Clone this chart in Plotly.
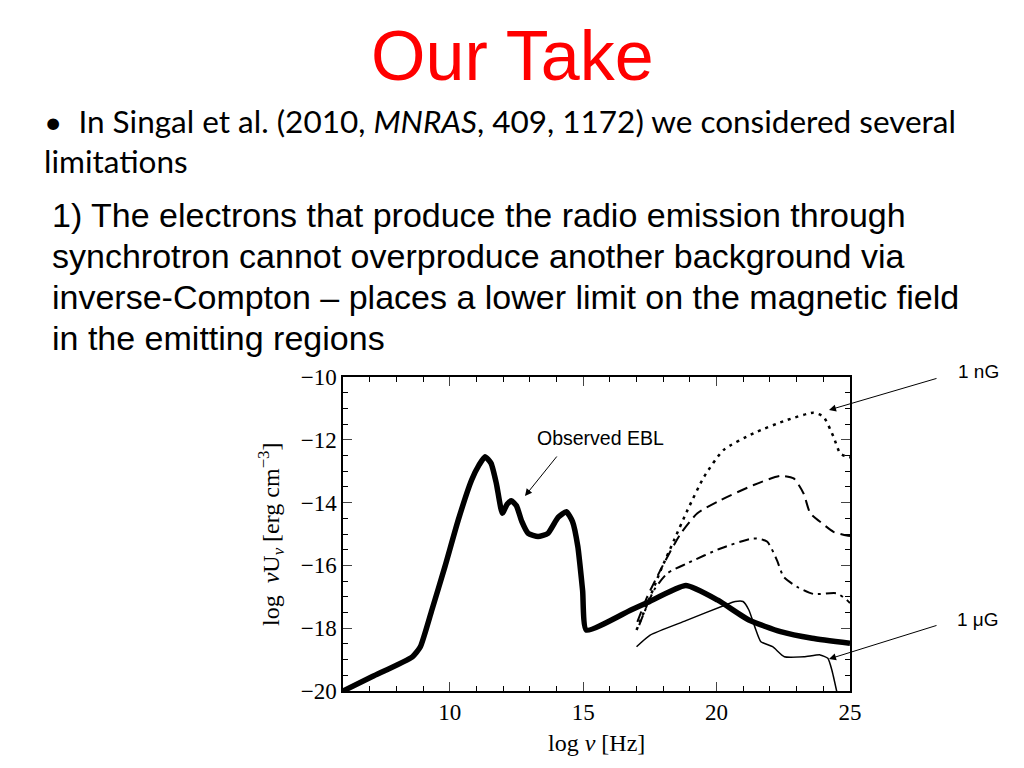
import plotly.graph_objects as go

# ---- data ----
ebl_x = [6.0, 7.1, 8.6, 8.9, 9.33, 9.82, 10.32, 10.82, 11.1, 11.32, 11.55, 11.75, 11.97,
         12.15, 12.31, 12.5, 12.7, 12.94, 13.31, 13.68, 14.06, 14.37, 14.6, 14.8, 14.98, 15.12,
         16.79, 17.37, 18.85, 20.03, 21.21, 22.4, 23.58, 25.0]
ebl_y = [-20.0, -19.54, -18.91, -18.59, -17.42, -16.04, -14.55, -13.28, -12.8, -12.54, -12.75, -13.4, -14.34,
         -14.05, -13.94, -14.1, -14.6, -14.98, -15.08, -14.98, -14.47, -14.29, -14.6, -15.4, -16.8, -18.06,
         -17.42, -17.2, -16.64, -17.1, -17.74, -18.11, -18.32, -18.48]

mug_x = [17.0, 17.51, 18.85, 20.33, 20.7, 20.99, 21.21, 21.43, 21.66, 22.1, 22.54, 23.28, 23.88, 24.17, 24.32, 24.5, 24.6]
mug_y = [-18.59, -18.22, -17.76, -17.26, -17.15, -17.15, -17.42, -17.95, -18.43, -18.59, -18.91, -18.91, -18.85, -18.96, -19.33, -20.0, -20.4]

ng_x = [17.0, 17.41, 17.91, 18.41, 18.91, 19.53, 20.27, 21.39, 22.64, 23.63, 24.0, 24.38, 24.63, 24.88, 25.0]
ng_y = [-18.06, -17.21, -16.15, -15.19, -14.24, -13.18, -12.32, -11.79, -11.37, -11.14, -11.26, -11.9, -12.43, -12.54, -12.56]

dash_x = [17.03, 17.4, 18.03, 18.66, 19.28, 20.15, 21.39, 22.39, 22.89, 23.26, 23.51, 23.88, 24.38, 24.88, 25.0]
dash_y = [-17.8, -17.0, -15.93, -14.98, -14.34, -13.92, -13.44, -13.15, -13.23, -13.71, -14.34, -14.61, -14.93, -15.05, -15.06]

dd_x = [17.1, 17.66, 18.16, 18.91, 20.15, 21.39, 21.89, 22.26, 22.51, 23.01, 23.63, 24.5, 24.88, 25.0]
dd_y = [-17.9, -16.78, -16.25, -15.93, -15.46, -15.14, -15.24, -15.83, -16.36, -16.68, -16.91, -16.89, -17.1, -17.2]

x_ticks = [10, 15, 20, 25]
y_ticks = [-10, -12, -14, -16, -18, -20]

title_text = "Our Take"
bullet_lines = ["\u2022  In Singal et al. (2010, <i>MNRAS</i>, 409, 1172) we considered several",
                "limitations"]
para_lines = ["1) The electrons that produce the radio emission through",
              "synchrotron cannot overproduce another background via",
              "inverse-Compton \u2013 places a lower limit on the magnetic field",
              "in the emitting regions"]

# page body has an 8px margin: draw a 1008x752 figure offset by 8px
OFF = 8
W, H = 1024 - 2 * OFF, 768 - 2 * OFF
L, R, T, B = 343, 850, 377, 691   # plot frame in screen pixels

fig = go.Figure()
fig.add_trace(go.Scatter(x=ng_x, y=ng_y, mode="lines", line=dict(color="black", width=2.5, dash="3px,5px", shape="spline", smoothing=0.6), showlegend=False))
fig.add_trace(go.Scatter(x=dash_x, y=dash_y, mode="lines", line=dict(color="black", width=2, dash="11px,6px", shape="spline", smoothing=0.6), showlegend=False))
fig.add_trace(go.Scatter(x=dd_x, y=dd_y, mode="lines", line=dict(color="black", width=2, dash="10px,5px,3px,5px", shape="spline", smoothing=0.6), showlegend=False))
fig.add_trace(go.Scatter(x=mug_x, y=mug_y, mode="lines", line=dict(color="black", width=1.5, shape="spline", smoothing=0.5), showlegend=False))
fig.add_trace(go.Scatter(x=ebl_x, y=ebl_y, mode="lines", line=dict(color="black", width=5.5, shape="spline", smoothing=0.5), showlegend=False))

tickfont = dict(family="Liberation Serif", size=23, color="black")
fig.update_xaxes(range=[6, 25], tickvals=x_ticks, ticks="inside", ticklen=9, tickwidth=1.2, mirror="allticks",
                 showline=True, linecolor="black", linewidth=1.5, showgrid=False, zeroline=False,
                 tickfont=tickfont, minor=dict(dtick=1, tick0=0, ticks="inside", ticklen=5, tickcolor="black", tickwidth=1))
fig.update_yaxes(range=[-20, -10], tickvals=y_ticks, ticks="inside", ticklen=9, tickwidth=1.2, mirror="allticks",
                 showline=True, linecolor="black", linewidth=1.5, showgrid=False, zeroline=False,
                 tickfont=tickfont, minor=dict(dtick=0.5, tick0=0, ticks="inside", ticklen=5, tickcolor="black", tickwidth=1))


def px(xp):
    return (xp - L) / (R - L)


def py(yp):
    return (B - yp) / (B - T)


def dx(xp):
    return 6 + (xp - L) / (R - L) * 19


def dy(yp):
    return -10 - (yp - T) / (B - T) * 10


ann = []
# axis titles
ann.append(dict(text="log <i>\u03bd</i> [Hz]", xref="paper", yref="paper", x=px(596), y=py(743),
                showarrow=False, font=dict(family="Liberation Serif", size=24, color="black"), xanchor="center", yanchor="middle"))
ann.append(dict(text="log  <i>\u03bd</i>U<sub><i>\u03bd</i></sub> [erg cm<sup>\u22123</sup>]", xref="paper", yref="paper",
                x=px(271), y=py(534), textangle=-90,
                showarrow=False, font=dict(family="Liberation Serif", size=24, color="black"), xanchor="center", yanchor="middle"))

# chart labels
lab_font = dict(family="Liberation Sans", size=19, color="black")
ann.append(dict(text="Observed EBL", xref="paper", yref="paper", x=px(600), y=py(438), showarrow=False,
                font=dict(family="Liberation Sans", size=19.5, color="black"), xanchor="center", yanchor="middle"))
ann.append(dict(text="1 nG", xref="paper", yref="paper", x=px(978), y=py(372), showarrow=False,
                font=lab_font, xanchor="center", yanchor="middle"))
ann.append(dict(text="1 \u03bcG", xref="paper", yref="paper", x=px(978), y=py(619), showarrow=False,
                font=lab_font, xanchor="center", yanchor="middle"))
# arrows (head in data coordinates, tail as pixel offset)
arrows = [((525, 496), (558, 455)), ((829, 410), (938, 378)), ((829, 659), (938, 625))]
for (hx, hy), (tx, ty) in arrows:
    ann.append(dict(text="", x=dx(hx), y=dy(hy), xref="x", yref="y", ax=tx - hx, ay=ty - hy,
                    showarrow=True, arrowhead=2, arrowsize=1.4, arrowwidth=1, arrowcolor="black", standoff=0))

# slide title
ann.append(dict(text=title_text, xref="paper", yref="paper", x=px(512), y=py(56), showarrow=False,
                font=dict(family="Liberation Sans", size=70, color="#ff0000"), xanchor="center", yanchor="middle"))
# bullet
ann.append(dict(text=bullet_lines[0], xref="paper", yref="paper", x=px(42), y=py(121), showarrow=False,
                font=dict(family="Lato", size=31.5, color="black"), xanchor="left", yanchor="middle"))
ann.append(dict(text=bullet_lines[1], xref="paper", yref="paper", x=px(42), y=py(161), showarrow=False,
                font=dict(family="Lato", size=31.5, color="black"), xanchor="left", yanchor="middle"))
for i, line in enumerate(para_lines):
    ann.append(dict(text=line, xref="paper", yref="paper", x=px(50), y=py(215 + 41 * i), showarrow=False,
                    font=dict(family="Liberation Sans", size=34, color="black"), xanchor="left", yanchor="middle"))

fig.update_layout(width=W, height=H,
                  margin=dict(l=L - OFF, r=(W + OFF) - R, t=T - OFF, b=(H + OFF) - B, pad=0),
                  plot_bgcolor="white", paper_bgcolor="white", annotations=ann)

fig.write_html("out.html")
